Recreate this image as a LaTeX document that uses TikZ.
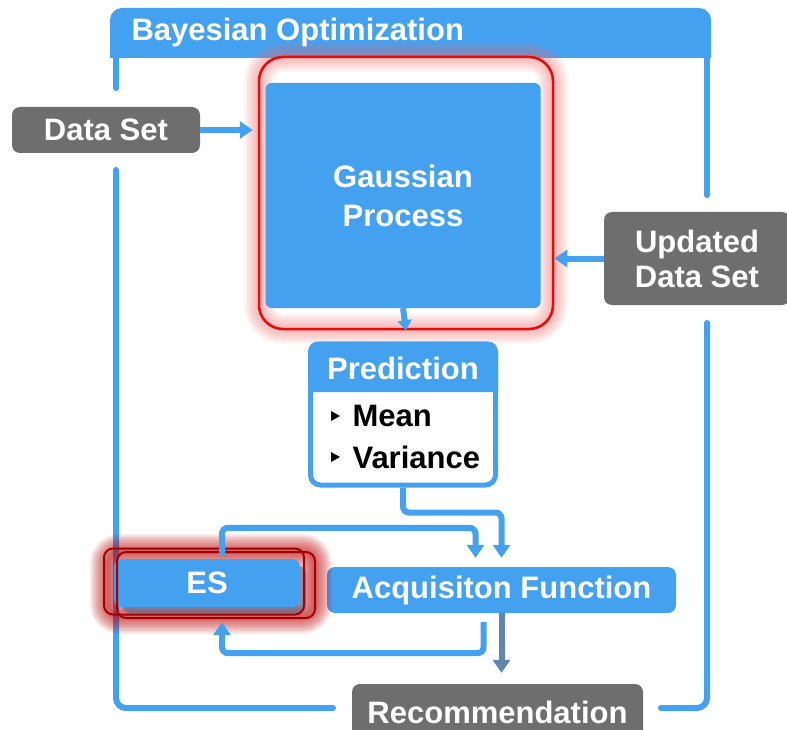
\documentclass[tikz,border=0pt]{standalone}
\usepackage{fontspec}
\setmainfont{Liberation Sans}
\usetikzlibrary{arrows.meta,calc}
\definecolor{boblue}{RGB}{68,161,240}
\definecolor{bogray}{RGB}{110,110,110}
\definecolor{bored}{RGB}{235,10,10}
\definecolor{esred}{RGB}{165,0,0}
\definecolor{recarrow}{RGB}{96,134,176}
\tikzset{
  lbl/.style={font=\fontsize{31}{37}\selectfont\bfseries, text=white, align=center},
  bluebox/.style={lbl, fill=boblue, rounded corners=8pt, inner sep=0pt},
  graybox/.style={lbl, fill=bogray, rounded corners=8pt, inner sep=0pt},
  frameline/.style={draw=boblue, line width=6pt, line cap=round, rounded corners=10pt},
  arr/.style={draw=boblue, line width=6pt, -{Triangle[length=13pt,width=17pt]}},
  bullet/.style={fill=black},
}
\begin{document}
\begin{tikzpicture}[x=1pt,y=-1pt]
\useasboundingbox (0,0) rectangle (787,730);
\clip (0,0) rectangle (787,730);
\fill[white] (0,0) rectangle (787,730);

% Container: header bar and side rails
\fill[boblue] (110,58) [rounded corners=12pt] -- (110,8) -- (711,8) [sharp corners] -- (711,58) -- cycle;
\node[lbl, anchor=west] (title) at (128,32) {Bayesian Optimization};
\draw[frameline] (116,58) -- (116,88);
\draw[frameline] (116,170) -- (116,708) -- (333,708);
\draw[frameline] (707,58) -- (707,195);
\draw[frameline] (707,323) -- (707,708) -- (661,708);

% Gaussian process with soft red highlight
\foreach \w in {3,6,...,30}
  \draw[bored!60, line width=\w pt, opacity=0.06, rounded corners=24pt]
    (259,57) rectangle (553,329);
\node[bluebox, rounded corners=6pt, minimum width=275pt, minimum height=225pt] (gp) at (403,195.5) {Gaussian\\[2pt]Process};
\node[draw=bored, line width=2.5pt, rounded corners=24pt, minimum width=294pt, minimum height=272pt, inner sep=0pt] (gphi) at (406,193) {};

% Inputs
\node[graybox, minimum width=188pt, minimum height=46pt] (ds) at (106,130) {Data Set};
\node[graybox, minimum width=186pt, minimum height=93pt] (upd) at (697,258.5) {Updated\\[-2pt]Data Set};
\draw[arr, shorten >=5pt] (ds.east) -- (ds.east -| gphi.west);
\draw[arr] (upd.west) -- (upd.west -| gphi.east);
\draw[arr, -{Triangle[length=10pt,width=14pt]}] (gp.south) -- (gphi.south);

% Prediction box
\node[draw=boblue, line width=5pt, rounded corners=10pt, minimum width=185pt, minimum height=141pt, inner sep=0pt] (pred) at (403,414.5) {};
\fill[boblue] (pred.west |- 0,392) [rounded corners=10pt] -- (pred.north west) -- (pred.north east) [sharp corners] -- (pred.east |- 0,392) -- cycle;
\node[lbl] (predt) at (403,368) {Prediction};
\node[lbl, text=black, anchor=west] (mean) at (349,416) {Mean};
\node[lbl, text=black, anchor=west] (var) at (349,457) {Variance};
\fill[bullet] ($(mean.west)+(-18,-5)$) -- ++(9,5) -- ++(-9,5) -- cycle;
\fill[bullet] ($(var.west)+(-18,-5)$) -- ++(9,5) -- ++(-9,5) -- cycle;

% Acquisition and ES
\node[bluebox, minimum width=349pt, minimum height=46pt] (acq) at (501.5,590) {Acquisiton Function};
\foreach \w in {3,6,...,36}
  \draw[esred!70!red, line width=\w pt, opacity=0.075, rounded corners=12pt]
    (108,552) rectangle (314,616);
\fill[boblue!60!black, opacity=0.5, rounded corners=8pt] (122,566) rectangle (306,613);
\node[bluebox, minimum width=186pt, minimum height=48pt] (es) at (207,583) {ES};
\node[draw=esred, line width=2pt, rounded corners=9pt, minimum width=200pt, minimum height=66pt, inner sep=0pt] (esr1) at (204,581.5) {};
\node[draw=esred, line width=2pt, rounded corners=9pt, minimum width=198pt, minimum height=66pt, inner sep=0pt] (esr2) at (216,585) {};

\node[graybox, minimum width=291pt, minimum height=56pt] (rec) at (497.5,712) {Recommendation};

% Connectors
\draw[arr, rounded corners=6pt, shorten >=9pt] (pred.south) -- ++(0,25) -| (acq.north);
\draw[arr, rounded corners=6pt, shorten >=9pt, shorten <=3pt] ([xshift=15pt]es.north) -- ++(0,-31) -| ([xshift=-26pt]acq.north);
\draw[arr, rounded corners=6pt, shorten <=9pt, shorten >=15pt] ([xshift=-18pt]acq.south) -- ++(0,40) -| ([xshift=15pt]es.south);
\draw[arr, draw=recarrow, shorten >=11pt] (acq.south) -- (acq.south |- rec.north);
\end{tikzpicture}
\end{document}
